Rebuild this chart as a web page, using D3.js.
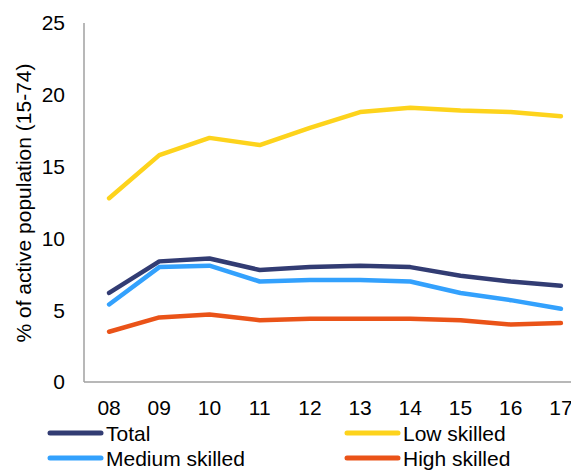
<!DOCTYPE html>
<html><head><meta charset="utf-8">
<script src="https://cdn.jsdelivr.net/npm/d3@7"></script>
<style>body{margin:0;background:#fff}svg{display:block;font-family:"Liberation Sans",Arial,sans-serif}</style>
</head><body><svg id="c" width="571" height="470"></svg>
<script>
const categories = ["08","09","10","11","12","13","14","15","16","17"];
const total = [6.2,8.4,8.6,7.8,8.0,8.1,8.0,7.4,7.0,6.7];
const lowSkilled = [12.8,15.8,17.0,16.5,17.7,18.8,19.1,18.9,18.8,18.5];
const mediumSkilled = [5.4,8.0,8.1,7.0,7.1,7.1,7.0,6.2,5.7,5.1];
const highSkilled = [3.5,4.5,4.7,4.3,4.4,4.4,4.4,4.3,4.0,4.1];
const yTicks = [0,5,10,15,20,25];
const seriesNames = ["Total","Low skilled","Medium skilled","High skilled"];
const colors = ["#323c73","#fdd31c","#33a1fd","#ea5318"];
const seriesData = [total, lowSkilled, mediumSkilled, highSkilled];
const drawOrder = [1,3,2,0];

const svg = d3.select("#c");
const pLeft = 84, pRight = 586, pTop = 23, pBottom = 382;
const x = d3.scalePoint().domain(categories).range([pLeft, pRight]).padding(0.5);
const y = d3.scaleLinear().domain([0,25]).range([pBottom, pTop]);
const fs = 21;

// axes
svg.append("line").attr("x1",pLeft).attr("x2",pLeft).attr("y1",pTop).attr("y2",pBottom)
  .attr("stroke","#a0a0a0").attr("stroke-width",1.5);
svg.append("line").attr("x1",pLeft).attr("x2",571).attr("y1",pBottom).attr("y2",pBottom)
  .attr("stroke","#a0a0a0").attr("stroke-width",1.5);

svg.append("g").selectAll("text").data(yTicks).join("text")
  .attr("x",65).attr("y",d=>y(d)).attr("dy","0.35em").attr("text-anchor","end")
  .attr("font-size",fs).attr("fill","#000").text(d=>d);

svg.append("g").selectAll("text").data(categories).join("text")
  .attr("x",d=>x(d)).attr("y",415).attr("text-anchor","middle")
  .attr("font-size",fs).attr("fill","#000").text(d=>d);

svg.append("text").attr("transform","translate(31,203) rotate(-90)")
  .attr("text-anchor","middle").attr("font-size",fs).attr("fill","#000")
  .text("% of active population (15-74)");

const line = d3.line().x((d,i)=>x(categories[i])).y(d=>y(d));
drawOrder.forEach(k=>{
  svg.append("path").attr("d",line(seriesData[k])).attr("fill","none")
    .attr("stroke",colors[k]).attr("stroke-width",4.5)
    .attr("stroke-linecap","round").attr("stroke-linejoin","round");
});

// legend
const legendPos = [[48,433],[345,433],[48,458],[345,458]];
seriesNames.forEach((n,i)=>{
  const [lx,ly] = legendPos[i];
  svg.append("line").attr("x1",lx+2).attr("x2",lx+53).attr("y1",ly).attr("y2",ly)
    .attr("stroke",colors[i]).attr("stroke-width",5).attr("stroke-linecap","round");
  svg.append("text").attr("x",lx+58).attr("y",ly+8).attr("font-size",fs).attr("fill","#000").text(n);
});
</script></body></html>
